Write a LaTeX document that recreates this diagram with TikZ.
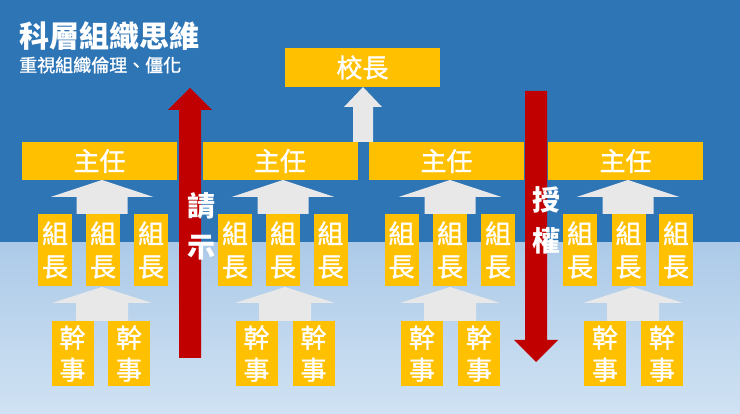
\documentclass[tikz,border=0pt]{standalone}
\usepackage{fontspec}
\newfontfamily\cjk{Noto Sans CJK TC}
\newfontfamily\cjkmid[FakeBold=1.2]{Noto Sans CJK TC}
\definecolor{slideblue}{RGB}{46,117,182}
\definecolor{paleblue}{RGB}{172,202,232}
\definecolor{mistblue}{RGB}{208,226,243}
\definecolor{boxyellow}{RGB}{255,192,0}
\definecolor{arrowgrey}{RGB}{232,232,232}
\definecolor{arrowred}{RGB}{192,0,0}
\tikzset{
  headbox/.style={fill=boxyellow, text=white, inner sep=0pt, minimum width=155pt, font=\cjkmid\fontsize{26}{30}\selectfont},
  leaderbox/.style={fill=boxyellow, text=white, inner sep=0pt, align=center, minimum width=34pt, minimum height=72pt, font=\cjkmid\fontsize{26}{33}\selectfont},
  staffbox/.style={fill=boxyellow, text=white, inner sep=0pt, align=center, minimum width=42pt, minimum height=65pt, font=\cjkmid\fontsize{26}{32}\selectfont},
  redlabel/.style={text=white, align=center, inner sep=0pt, font=\cjk\bfseries\fontsize{28}{41}\selectfont}
}
\begin{document}
\begin{tikzpicture}[x=1pt,y=-1pt]
		% % Background
		 	\useasboundingbox (0,0) rectangle (740,414);
		 	\fill[slideblue] (0,0) rectangle (740,243);
		 	\shade[top color=paleblue, bottom color=mistblue] (0,243) rectangle (740,414);
		% % Title
		 	\node[anchor=west, text=white, inner sep=0pt, font=\cjk\bfseries\fontsize{30}{32}\selectfont] (title) at (19,36) {科層組織思維};
		 	\node[anchor=west, text=white, inner sep=0pt, font=\cjkmid\fontsize{18}{20}\selectfont] (subtitle) at (19,65) {重視組織倫理、僵化};
		% % Grey block arrows (pointing up)
		 	\fill[arrowgrey] (353,142) -- (353,107) -- (344,107) -- (363,87) -- (382,107) -- (373,107) -- (373,142) -- cycle;
		 	\foreach \cx in {102,283,450,628}{
  		 		\fill[arrowgrey] (\cx-25.5,214) -- (\cx-25.5,197) -- (\cx-51.5,197) -- (\cx,180) -- (\cx+51.5,197) -- (\cx+25.5,197) -- (\cx+25.5,214) -- cycle;
		 	}
		 	\foreach \cx in {102,285,450,633}{
  		 		\fill[arrowgrey] (\cx-26,321) -- (\cx-26,303) -- (\cx-50,303) -- (\cx,287) -- (\cx+50,303) -- (\cx+26,303) -- (\cx+26,321) -- cycle;
		 	}
		% % Principal and chiefs
		 	\node[headbox, minimum height=39pt] (principal) at (362.5,67.5) {校長};
		 	\foreach \x/\name in {
  		 		99.5/chiefA,
  		 		280/chiefB,
  		 		446.5/chiefC,
  		 		625.5/chiefD
		 	}{
  		 		\node[headbox, minimum height=38pt] (\name) at (\x,161) {主任};
		 	}
		% % Group leaders
		 	\foreach \x/\name in {
  		 		55/leadA1, 103/leadA2, 151/leadA3,
  		 		235/leadB1, 283/leadB2, 330.5/leadB3,
  		 		401.5/leadC1, 450/leadC2, 498/leadC3,
  		 		580/leadD1, 628.5/leadD2, 676/leadD3
		 	}{
  		 		\node[leaderbox] (\name) at (\x,250) {組\\長};
		 	}
		% % Staff
		 	\foreach \x/\name in {
  		 		72.5/staffA1, 129/staffA2,
  		 		256.5/staffB1, 313.5/staffB2,
  		 		422/staffC1, 479/staffC2,
  		 		605/staffD1, 662/staffD2
		 	}{
  		 		\node[staffbox] (\name) at (\x,353.5) {幹\\事};
		 	}
		% % Red arrows
		 	\fill[arrowred] (179,358) -- (179,110) -- (168,110) -- (190,88) -- (212,110) -- (201,110) -- (201,358) -- cycle;
		 	\fill[arrowred] (525,91) -- (525,340) -- (514,340) -- (536,362) -- (558,340) -- (547,340) -- (547,91) -- cycle;
		 	\node[redlabel] (report) at (201,226) {請\\示};
		 	\node[redlabel] (grant) at (546,220) {授\\權};
\end{tikzpicture}
\end{document}
